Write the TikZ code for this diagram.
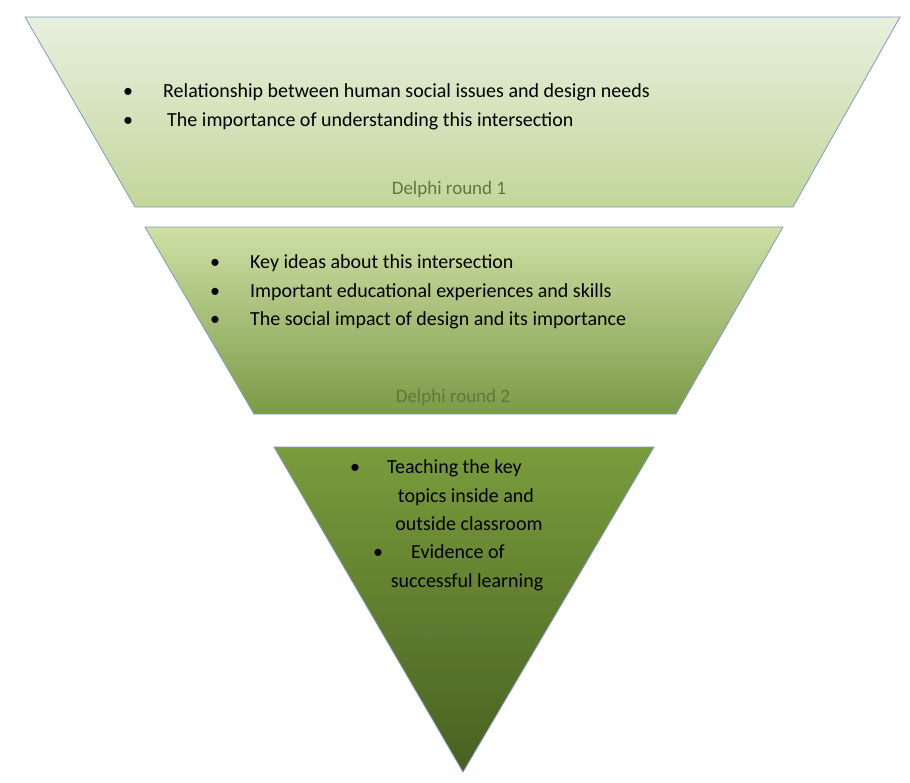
\documentclass[tikz,border=0pt]{standalone}
\usepackage{fontspec}
\setmainfont{Carlito}
\begin{document}
\begin{tikzpicture}[x=1pt,y=-1pt,
  txt/.style={anchor=base west,inner sep=0pt,font=\fontsize{20}{24}\selectfont,text=black},
  ctxt/.style={anchor=base,inner sep=0pt,font=\fontsize{20}{24}\selectfont,text=black},
  lbl/.style={anchor=base,inner sep=0pt,font=\fontsize{19}{24}\selectfont,text=lblc},
  edge/.style={draw=edgec,line width=0.8pt}]
\definecolor{edgec}{HTML}{7F9CC0}
\definecolor{lblc}{HTML}{5E7A3A}
\useasboundingbox (0,0) rectangle (910,782);
\shade[top color={rgb,255:red,232;green,240;blue,222},bottom color={rgb,255:red,194;green,214;blue,155}] (25,17) -- (900,17) -- (793,207) -- (135,207) -- cycle;
\draw[edge] (25,17) -- (900,17) -- (793,207) -- (135,207) -- cycle;
\shade[top color={rgb,255:red,206;green,224;blue,166},bottom color={rgb,255:red,124;green,154;blue,70}] (145,227) -- (783,227) -- (676,414) -- (254,414) -- cycle;
\draw[edge] (145,227) -- (783,227) -- (676,414) -- (254,414) -- cycle;
\shade[top color={rgb,255:red,122;green,156;blue,60},bottom color={rgb,255:red,72;green,96;blue,32}] (274,447) -- (654,447) -- (463,772) -- cycle;
\draw[edge] (274,447) -- (654,447) -- (463,772) -- cycle;

\node[txt] (b1) at (123,97) {•};
\node[txt] (t1) at (163,97) {Relationship between human social issues and design needs};
\node[txt] (b2) at (123,126) {•};
\node[txt] (t2) at (167,126) {The importance of understanding this intersection};
\node[lbl] (l1) at (449,194) {Delphi round 1};

\node[txt] (b3) at (210,268) {•};
\node[txt] (t3) at (250,268) {Key ideas about this intersection};
\node[txt] (b4) at (210,297) {•};
\node[txt] (t4) at (250,297) {Important educational experiences and skills};
\node[txt] (b5) at (210,325) {•};
\node[txt] (t5) at (250,325) {The social impact of design and its importance};
\node[lbl] (l2) at (453,402) {Delphi round 2};

\node[txt] (b6) at (350,473) {•};
\node[txt] (t6) at (387,473) {Teaching the key};
\node[ctxt] (t7) at (466,502) {topics inside and};
\node[ctxt] (t8) at (469,530) {outside classroom};
\node[txt] (b9) at (373,558) {•};
\node[txt] (t9) at (411,558) {Evidence of};
\node[ctxt] (t10) at (467,587) {successful learning};
\node[lbl] (l3) at (458,635) {Delphi round 3};
\end{tikzpicture}
\end{document}
